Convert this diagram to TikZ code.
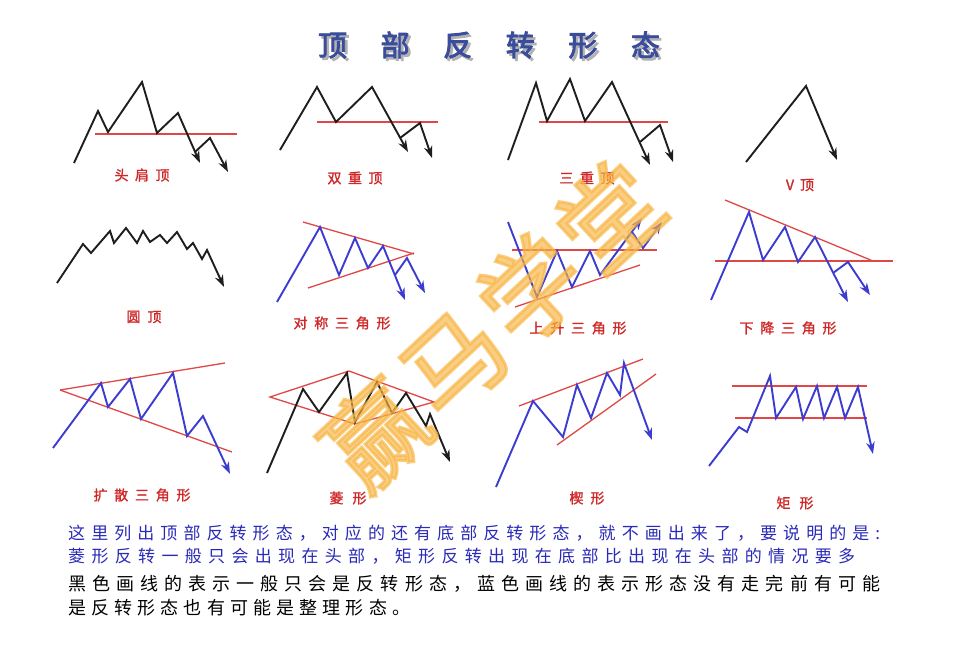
\documentclass[tikz,border=0pt]{standalone}
\usepackage{fontspec}
\setmainfont{Noto Sans CJK SC}
\newfontfamily\cjk{Noto Sans CJK SC}
\newfontfamily\cjkb[FakeBold=1.5]{Noto Sans CJK SC}
\newfontfamily\cjkbb[FakeBold=3]{Noto Sans CJK SC}
\usetikzlibrary{arrows.meta}
\definecolor{pblue}{HTML}{3C3CD0}
\definecolor{pred}{HTML}{E04848}
\definecolor{pblack}{HTML}{1E1E1E}
\definecolor{lblred}{HTML}{D02828}
\definecolor{titleblue}{HTML}{3A4C9C}
\definecolor{wmcol}{HTML}{F8B440}
\definecolor{txtblue}{HTML}{2A2AB8}
\def\gobbleone#1{}
\def\spreadaux#1{#1\futurelet\spnext\spreadcheck}
\def\spreadcheck{\ifx\spnext\relax\expandafter\gobbleone\else\hfill\expandafter\spreadaux\fi}
\newcommand\spreadtext[2]{\hbox to #1{\spreadaux#2\relax}}
\tikzset{
  bl/.style={pblack, line width=1.9pt, line join=miter},
  bu/.style={pblue, line width=1.9pt, line join=miter},
  rd/.style={pred, line width=1.3pt},
  arr/.style={-{Stealth[length=12pt,width=8.5pt]}},
  lbl/.style={text=lblred, inner sep=0pt, font=\cjkb\fontsize{14}{14}\selectfont},
  txt/.style={anchor=west, inner sep=0pt, font=\cjk\fontsize{17}{17}\selectfont}
}
\begin{document}
\begin{tikzpicture}[x=1pt,y=-1pt]
\useasboundingbox (0,0) rectangle (964,662);
\fill[white] (0,0) rectangle (964,662);
% title
\node[inner sep=0pt, text=gray!60, font=\cjkbb\fontsize{29}{29}\selectfont] (titleshadow) at (491.5,47.5) {\spreadtext{342pt}{顶部反转形态}};
\node[inner sep=0pt, text=titleblue, font=\cjkbb\fontsize{29}{29}\selectfont] (title) at (489,45) {\spreadtext{342pt}{顶部反转形态}};

% 1 head and shoulders
\draw[rd] (95,134) -- (237,134);
\draw[bl,arr] (74,163) -- (98,111) -- (108,132) -- (142,82) -- (157,133) -- (178,113) -- (200,163);
\draw[bl,arr] (195,152) -- (210,138) -- (228,172);
\node[lbl] (l1) at (142,175) {\spreadtext{55pt}{头肩顶}};

% 2 double top
\draw[rd] (317,122) -- (438,122);
\draw[bl,arr] (280,150) -- (317,87) -- (336,122) -- (372,87) -- (408,152);
\draw[bl,arr] (400,138) -- (420,123) -- (432,158);
\node[lbl] (l2) at (355,178) {\spreadtext{55pt}{双重顶}};

% 3 triple top
\draw[rd] (539,122) -- (668,122);
\draw[bl,arr] (508,160) -- (536,83) -- (547,121) -- (570,79) -- (585,121) -- (612,82) -- (650,165);
\draw[bl,arr] (640,142) -- (660,125) -- (673,162);
\node[lbl] (l3) at (587,178) {\spreadtext{55pt}{三重顶}};

% 4 V top
\draw[bl,arr] (746,162) -- (806,86) -- (837,160);
\node[lbl] (l4) at (800,185) {\spreadtext{28pt}{V顶}};

% 5 round top
\draw[bl,arr] (57,283) -- (83,244) -- (91,253) -- (110,231) -- (114,243) -- (126,228) -- (137,243) -- (143,231) -- (150,242) -- (160,235) -- (167,243) -- (177,232) -- (187,249) -- (193,243) -- (202,259) -- (207,250) -- (224,287);
\node[lbl] (l5) at (144,317) {\spreadtext{35pt}{圆顶}};

% 6 symmetric triangle
\draw[rd] (303,222) -- (414,254);
\draw[rd] (308,288) -- (414,253);
\draw[bu,arr] (277,302) -- (320,227) -- (339,275) -- (355,238) -- (368,268) -- (383,246) -- (405,300);
\draw[bu,arr] (395,275) -- (407,258) -- (425,293);
\node[lbl] (l6) at (342,323) {\spreadtext{97pt}{对称三角形}};

% 7 ascending triangle
\draw[rd] (512,250) -- (657,250);
\draw[rd] (515,307) -- (640,265);
\draw[bu,arr] (508,222) -- (537,297) -- (557,251) -- (572,287) -- (590,251) -- (600,275) -- (642,218);
\draw[bu,arr] (632,232) -- (643,248) -- (662,222);
\node[lbl] (l7) at (578,328) {\spreadtext{97pt}{上升三角形}};

% 8 descending triangle
\draw[rd] (725,200) -- (873,261);
\draw[rd] (715,261) -- (893,261);
\draw[bu,arr] (711,300) -- (749,212) -- (763,260) -- (785,227) -- (798,262) -- (815,237) -- (848,302);
\draw[bu,arr] (833,273) -- (848,262) -- (870,295);
\node[lbl] (l8) at (788,328) {\spreadtext{97pt}{下降三角形}};

% 9 broadening triangle
\draw[rd] (60,390) -- (225,363);
\draw[rd] (60,390) -- (232,452);
\draw[bu,arr] (53,448) -- (101,383) -- (108,407) -- (130,379) -- (141,419) -- (173,373) -- (187,436) -- (203,416) -- (230,474);
\node[lbl] (l9) at (142,495) {\spreadtext{97pt}{扩散三角形}};

% 10 diamond
\draw[rd] (270,397) -- (349,371) -- (434,402) -- (355,424) -- cycle;
\draw[bl,arr] (267,473) -- (303,389) -- (319,412) -- (347,373) -- (355,422) -- (377,382) -- (392,413) -- (406,393) -- (426,426) -- (430,414) -- (450,462);
\node[lbl] (l10) at (348,498) {\spreadtext{37pt}{菱形}};

% 11 wedge
\draw[rd] (519,406) -- (643,359);
\draw[rd] (557,445) -- (656,374);
\draw[bu,arr] (496,487) -- (533,401) -- (563,437) -- (577,385) -- (591,418) -- (607,373) -- (620,395) -- (624,363) -- (652,440);
\node[lbl] (l11) at (587,498) {\spreadtext{35pt}{楔形}};

% 12 rectangle
\draw[rd] (732,386) -- (867,386);
\draw[rd] (735,418) -- (867,418);
\draw[bu,arr] (709,466) -- (739,427) -- (747,432) -- (770,376) -- (776,418) -- (796,387) -- (803,419) -- (817,386) -- (824,418) -- (837,387) -- (845,418) -- (858,387) -- (873,454);
\node[lbl] (l12) at (795,503) {\spreadtext{37pt}{矩形}};

% watermark
\node[rotate=43, text=wmcol, opacity=0.65, inner sep=0pt, font=\cjkbb\fontsize{100}{100}\selectfont] (wm) at (492,325) {\spreadtext{420pt}{赢马学堂}};

% bottom text
\node[txt, text=txtblue] (t1) at (68,533) {\spreadtext{812pt}{这里列出顶部反转形态，对应的还有底部反转形态，就不画出来了，要说明的是:}};
\node[txt, text=txtblue] (t2) at (68,556) {\spreadtext{787pt}{菱形反转一般只会出现在头部，矩形反转出现在底部比出现在头部的情况要多}};
\node[txt, text=black, font=\cjk\fontsize{18}{18}\selectfont] (t3) at (68,584) {\spreadtext{812pt}{黑色画线的表示一般只会是反转形态，蓝色画线的表示形态没有走完前有可能}};
\node[txt, text=black, font=\cjk\fontsize{18}{18}\selectfont] (t4) at (68,608) {\spreadtext{342pt}{是反转形态也有可能是整理形态。}};
\end{tikzpicture}
\end{document}
